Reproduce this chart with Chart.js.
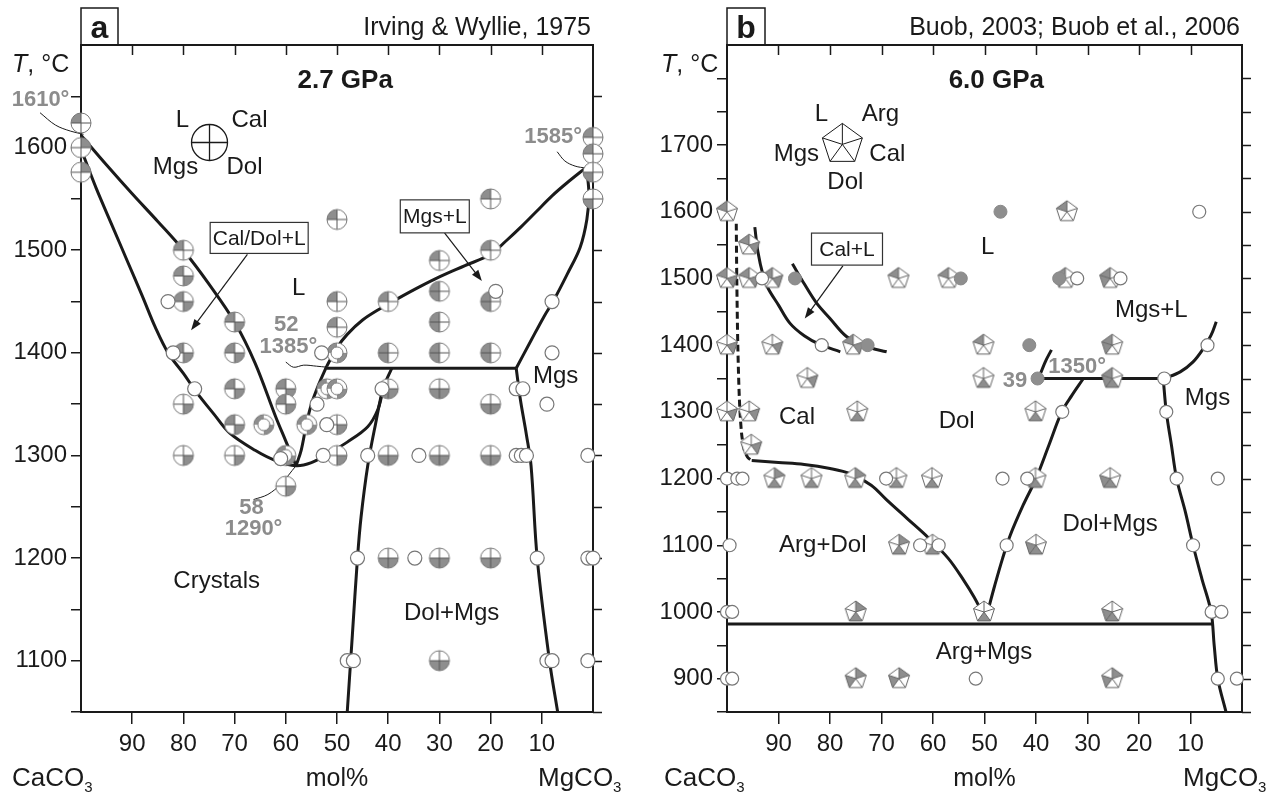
<!DOCTYPE html>
<html>
<head>
<meta charset="utf-8">
<script src="https://cdn.jsdelivr.net/npm/chart.js@4.4.1/dist/chart.umd.min.js"></script>
<style>
body { margin: 0; background: #fff; }
#wrap { position: relative; width: 1288px; height: 795px; overflow: hidden; }
canvas { position: absolute; top: 0; }
#ca { left: 0; }
#cb { left: 660px; }
</style>
</head>
<body>
<div id="wrap">
  <canvas id="ca" width="660" height="795"></canvas>
  <canvas id="cb" width="628" height="795"></canvas>
</div>
<script>
const INK = '#1a1a1a';
const GREY = '#8e8e8e';
const GTXT = '#8c8c8c';
Chart.defaults.font.family = '"Liberation Sans", Arial, Helvetica, sans-serif';
Chart.defaults.color = INK;

// tick labels
const tickX = [90, 80, 70, 60, 50, 40, 30, 20, 10];
const tickYA = [1100, 1200, 1300, 1400, 1500, 1600];
const tickYB = [900, 1000, 1100, 1200, 1300, 1400, 1500, 1600, 1700];

// ---- panel a : Irving & Wyllie 1975, 2.7 GPa  (x = mol% CaCO3, y = T)
// quadrant code: L Cal Mgs Dol
const aQuad = [
  [100, 1624, '1000'], [100, 1600, '0100'], [100, 1576, '0100'],
  [0, 1610, '1000'], [0, 1594, '1000'], [0, 1576, '0010'], [0, 1550, '0010'],
  [80, 1500, '1000'], [80, 1475, '1001'], [80, 1450, '1001'], [80, 1400, '1001'], [80, 1350, '0001'], [80, 1300, '0001'],
  [70, 1430, '1001'], [70, 1400, '1001'], [70, 1365, '1001'], [70, 1330, '1001'], [70, 1300, '0001'],
  [60, 1365, '1001'], [60, 1350, '1001'], [60, 1270, '0001'],
  [50, 1530, '1000'], [50, 1450, '1000'], [50, 1425, '1000'], [50, 1330, '0001'], [50, 1300, '0001'],
  [40, 1450, '1000'], [40, 1400, '1010'], [40, 1365, '0011'], [40, 1300, '0011'], [40, 1200, '0011'],
  [30, 1490, '1000'], [30, 1460, '1010'], [30, 1430, '1010'], [30, 1400, '1010'], [30, 1365, '0011'],
  [30, 1300, '0011'], [30, 1200, '0011'], [30, 1100, '0011'],
  [20, 1550, '1000'], [20, 1500, '1000'], [20, 1450, '1010'], [20, 1400, '1010'], [20, 1350, '0011'],
  [20, 1300, '0011'], [20, 1200, '0011']
];
const aRing = [[64.3, 1330], [60, 1300], [55.9, 1330], [52, 1365], [50, 1365], [50, 1400]];
const aOpen = [
  [83, 1450], [82, 1400], [77.8, 1365], [53.9, 1350], [53, 1400], [52, 1330], [52.7, 1300], [61, 1297],
  [44, 1300], [34, 1300], [41.2, 1365], [19, 1460], [15, 1300], [14, 1300], [13, 1300], [1, 1300],
  [8, 1450], [8, 1400], [9, 1350], [15, 1365], [13.7, 1365],
  [46, 1200], [34.8, 1200], [10.9, 1200], [1, 1200], [0, 1200],
  [48, 1100], [46.8, 1100], [9, 1100], [8, 1100], [1, 1100]
];
const aLiqCal = [[100, 1612], [95, 1583], [90, 1555], [85, 1528], [80, 1500], [75, 1467], [70, 1430], [66, 1390], [62, 1338], [60, 1314], [58, 1290]];
const aSolCal = [[99.5, 1592], [97, 1560], [94, 1525], [91, 1490], [88, 1455], [85.5, 1425], [83, 1400], [80, 1380], [77.5, 1362],
  [74, 1340], [71, 1322], [66, 1305], [62, 1295], [58, 1290], [55, 1293], [52, 1301], [48, 1313], [44, 1328], [42, 1345], [41, 1365]];
const aLiqDol = [[58, 1290], [57, 1305], [56, 1330], [55, 1350], [53.5, 1370], [52, 1387]];
const aLiqMgs = [[52, 1387], [50, 1405], [48, 1418], [45, 1432], [41.6, 1443], [37.7, 1454], [34, 1464], [30, 1474], [25, 1485],
  [20, 1496], [17, 1509], [14, 1523], [11, 1538], [8, 1553], [5, 1566], [1.5, 1580]];
const aSolMgs = [[15, 1385], [12, 1413], [9.5, 1436], [7.7, 1451], [5, 1477], [2.5, 1503], [1.2, 1530], [0.8, 1555], [1.2, 1578]];
const aIso = [[52, 1385], [15, 1385]];
const aSolvDol = [[39.3, 1385], [41, 1365], [42.5, 1330], [44, 1290], [45.3, 1240], [46, 1200], [47, 1125], [48, 1050]];
const aSolvMgs = [[15, 1385], [14.2, 1355], [13, 1320], [12.1, 1290], [10.9, 1200], [8.5, 1100], [6.9, 1050]];
const aLead1610 = [[108, 1634], [105, 1622], [102, 1616], [99.5, 1613]];
const aLead1585 = [[7, 1596], [5.5, 1587], [3.5, 1582], [1.3, 1580]];
const aLead1385 = [[60, 1391], [58.5, 1386], [56.5, 1388], [54, 1387], [52, 1386]];
const aLead1290 = [[66.3, 1257], [63.5, 1262], [61, 1272], [58, 1290]];

// ---- panel b : Buob 2003 / Buob et al. 2006, 6.0 GPa
// pentagon code: L Arg Cal Dol Mgs
const bPent = [
  [100, 1600, '10000'], [34, 1600, '10000'],
  [95.7, 1550, '10100'],
  [100, 1500, '10100'], [95.7, 1500, '10100'], [91.2, 1500, '10100'], [66.7, 1500, '10000'], [57, 1500, '10000'],
  [34.3, 1500, '10001'], [25.6, 1500, '10001'],
  [100, 1400, '00100'], [91.2, 1400, '00100'], [75.5, 1400, '10100'], [50.2, 1400, '10000'], [25.2, 1400, '10001'],
  [84.4, 1350, '00100'], [50.2, 1350, '00010'], [25.2, 1350, '10011'],
  [100, 1300, '00100'], [95.7, 1300, '00100'], [74.7, 1300, '00010'], [40.1, 1300, '00010'],
  [95.3, 1250, '00100'],
  [90.8, 1200, '01010'], [83.6, 1200, '00010'], [75.1, 1200, '01010'], [67.1, 1200, '00010'], [60.2, 1200, '00010'],
  [40.1, 1200, '00011'], [25.6, 1200, '00011'],
  [66.6, 1100, '01010'], [60.1, 1100, '00010'], [40, 1100, '00011'],
  [75, 1000, '01010'], [50.1, 1000, '00010'], [25.2, 1000, '00011'],
  [75, 900, '01001'], [66.6, 900, '01001'], [25.2, 900, '01001']
];
const bFull = [[46.9, 1600], [86.8, 1500], [54.6, 1500], [35.5, 1500], [72.7, 1400], [41.3, 1400], [39.7, 1350]];
const bOpen = [
  [8.3, 1600], [93.2, 1500], [32, 1500], [23.6, 1500], [81.6, 1400], [6.7, 1400], [15.1, 1350],
  [34.9, 1300], [14.7, 1300],
  [100, 1200], [98, 1200], [97, 1200], [69.1, 1200], [46.5, 1200], [41.7, 1200], [12.7, 1200], [4.7, 1200],
  [99.5, 1100], [62.5, 1100], [58.9, 1100], [45.7, 1100], [9.5, 1100],
  [100, 1000], [99, 1000], [5.9, 1000], [4, 1000],
  [100, 900], [99, 900], [51.7, 900], [4.7, 900], [1, 900]
];
const bDash = [[98.2, 1582], [98.1, 1500], [97.9, 1400], [97.6, 1320], [97.2, 1270], [96.7, 1245], [96, 1232], [95.2, 1227]];
const bArgDol = [[95.2, 1227], [90, 1224], [85, 1221], [80, 1215], [76, 1207], [72, 1190], [69, 1168], [65, 1140], [61, 1112],
  [57, 1080], [54, 1047], [52, 1022], [50.5, 1000]];
const bDolMgs = [[49.4, 1000], [48, 1040], [46.5, 1080], [45, 1115], [42.5, 1160], [40, 1200], [37.5, 1250], [35, 1300], [33, 1325], [30.8, 1350]];
const bIso1350 = [[39.5, 1350], [15.1, 1350]];
const bShort = [[39.5, 1350], [38.2, 1375], [37, 1393]];
const bLiqMgs = [[15.1, 1350], [12, 1360], [9.5, 1375], [7.5, 1395], [6, 1415], [5, 1435]];
const bSolvMgs = [[15.3, 1350], [14.7, 1300], [13.7, 1250], [12.7, 1200], [11, 1150], [9.5, 1100], [7.8, 1050], [6, 1000], [5.4, 950], [4.7, 900], [3.1, 850]];
const bIso982 = [[100, 982], [5.7, 982]];
const bCalL1 = [[94.6, 1577], [94, 1540], [93, 1505], [92, 1485], [90, 1460], [87.8, 1433], [85, 1414], [82, 1401], [78, 1390]];
const bCalL2 = [[87.3, 1522], [85, 1492], [82.6, 1463], [80, 1440], [76.8, 1413], [73, 1398], [69, 1390]];

// ---- symbol images
function quadIcon(code, r) {
  const c = document.createElement('canvas');
  const s = Math.ceil(2 * r + 4); c.width = c.height = s;
  const g = c.getContext('2d'), m = s / 2;
  g.fillStyle = '#fff'; g.beginPath(); g.arc(m, m, r, 0, 2 * Math.PI); g.fill();
  const ang = [[Math.PI, 1.5 * Math.PI], [1.5 * Math.PI, 2 * Math.PI], [0.5 * Math.PI, Math.PI], [0, 0.5 * Math.PI]];
  g.fillStyle = GREY;
  code.split('').forEach((f, i) => {
    if (f !== '1') return;
    g.beginPath(); g.moveTo(m, m); g.arc(m, m, r, ang[i][0], ang[i][1]); g.closePath(); g.fill();
  });
  g.strokeStyle = '#555'; g.lineWidth = 1;
  g.beginPath(); g.moveTo(m - r, m); g.lineTo(m + r, m); g.moveTo(m, m - r); g.lineTo(m, m + r); g.stroke();
  g.strokeStyle = '#777';
  g.beginPath(); g.arc(m, m, r, 0, 2 * Math.PI); g.stroke();
  return c;
}
function ringIcon(r) {
  const c = document.createElement('canvas');
  const s = Math.ceil(2 * r + 4); c.width = c.height = s;
  const g = c.getContext('2d'), m = s / 2;
  g.fillStyle = '#fff'; g.beginPath(); g.arc(m, m, r, 0, 2 * Math.PI); g.fill();
  g.strokeStyle = GREY; g.lineWidth = 4;
  g.beginPath(); g.arc(m, m, r - 2, Math.PI, 1.5 * Math.PI); g.stroke();
  g.beginPath(); g.arc(m, m, r - 2, 0, 0.5 * Math.PI); g.stroke();
  g.strokeStyle = '#777'; g.lineWidth = 1;
  g.beginPath(); g.arc(m, m, r, 0, 2 * Math.PI); g.stroke();
  g.beginPath(); g.arc(m, m, r - 4, 0, 2 * Math.PI); g.stroke();
  return c;
}
function pentPath(g, cx, cy, R) {
  const v = [];
  for (let k = 0; k < 5; k++) {
    const a = (-90 + 72 * k) * Math.PI / 180;
    v.push([cx + R * Math.cos(a), cy + R * Math.sin(a)]);
  }
  return v;
}
function pentIcon(code, R, lw) {
  const c = document.createElement('canvas');
  const s = Math.ceil(2 * R + 4); c.width = c.height = s;
  const g = c.getContext('2d'), m = s / 2;
  const v = pentPath(g, m, m, R);
  g.fillStyle = '#fff'; g.beginPath(); v.forEach((p, i) => i ? g.lineTo(p[0], p[1]) : g.moveTo(p[0], p[1])); g.closePath(); g.fill();
  const sect = [[4, 0], [0, 1], [1, 2], [2, 3], [3, 4]];
  g.fillStyle = GREY;
  code.split('').forEach((f, i) => {
    if (f !== '1') return;
    const [p, q] = sect[i];
    g.beginPath(); g.moveTo(m, m); g.lineTo(v[p][0], v[p][1]); g.lineTo(v[q][0], v[q][1]); g.closePath(); g.fill();
  });
  g.strokeStyle = '#666'; g.lineWidth = lw || 1;
  g.beginPath(); v.forEach(p => { g.moveTo(m, m); g.lineTo(p[0], p[1]); }); g.stroke();
  g.beginPath(); v.forEach((p, i) => i ? g.lineTo(p[0], p[1]) : g.moveTo(p[0], p[1])); g.closePath(); g.stroke();
  return c;
}
const icons = {};
function icon(kind, code) {
  const k = kind + code;
  if (!icons[k]) icons[k] = kind === 'q' ? quadIcon(code, 10) : kind === 'p' ? pentIcon(code, 11) : ringIcon(10);
  return icons[k];
}

// ---- helpers
const xy = a => a.map(p => ({ x: p[0], y: p[1], f: p[2] }));
const lineDs = (pts, extra) => Object.assign({
  data: xy(pts), showLine: true, pointRadius: 0, borderColor: INK, borderWidth: 3,
  tension: 0.35, order: 2, fill: false
}, extra || {});
const leader = pts => lineDs(pts, { borderWidth: 1, clip: false });

function rich(ctx, parts, x, y, align) {
  let w = 0;
  parts.forEach(p => { ctx.font = p.f; w += ctx.measureText(p.t).width; });
  let cx = align === 'right' ? x - w : align === 'center' ? x - w / 2 : x;
  ctx.textAlign = 'left'; ctx.textBaseline = 'alphabetic';
  parts.forEach(p => { ctx.font = p.f; ctx.fillText(p.t, cx, y + (p.dy || 0)); cx += ctx.measureText(p.t).width; });
}
const FF = '"Liberation Sans", Arial, sans-serif';

const deco = {
  id: 'deco',
  beforeDatasetsDraw(chart, args, o) {
    const { ctx, chartArea: a, scales: { x, y } } = chart;
    ctx.save();
    ctx.strokeStyle = INK; ctx.lineWidth = 1.5;
    ctx.beginPath();
    tickX.forEach(v => {
      const px = Math.round(x.getPixelForValue(v)) + 0.5;
      ctx.moveTo(px, a.top); ctx.lineTo(px, a.top + 10);
    });
    y.ticks.forEach(t => {
      if (t.value >= y.max) return;
      const py = Math.round(y.getPixelForValue(t.value)) + 0.5;
      ctx.moveTo(a.right, py); ctx.lineTo(a.right + 9, py);
    });
    ctx.stroke();
    ctx.lineWidth = 2;
    ctx.strokeRect(a.left, a.top, a.right - a.left, a.bottom - a.top);
    ctx.lineWidth = 1.5;
    ctx.strokeRect(a.left, 8, o.tabW, a.top - 8);
    ctx.restore();
  },
  afterDatasetsDraw(chart, args, o) {
    const { ctx, chartArea: a, scales: { x, y } } = chart;
    const X = v => x.getPixelForValue(v), Y = v => y.getPixelForValue(v);
    ctx.save();
    ctx.fillStyle = INK;
    // panel letter, source
    ctx.font = 'bold 32px ' + FF; ctx.textAlign = 'center'; ctx.textBaseline = 'alphabetic';
    ctx.fillText(o.letter, a.left + o.tabW / 2, 38);
    rich(ctx, [{ t: o.source, f: '25px ' + FF }], a.right - 2, 35, 'right');
    // axis titles
    rich(ctx, [{ t: 'T', f: 'italic 25px ' + FF }, { t: ', °C', f: '25px ' + FF }], o.tLeft, 72, 'left');
    rich(ctx, [{ t: 'CaCO', f: '26px ' + FF }, { t: '3', f: '15px ' + FF, dy: 6 }], o.caLeft, 786, 'left');
    rich(ctx, [{ t: 'mol%', f: '25px ' + FF }], (a.left + a.right) / 2, 786, 'center');
    rich(ctx, [{ t: 'MgCO', f: '26px ' + FF }, { t: '3', f: '15px ' + FF, dy: 6 }], o.mgLeft, 786, 'left');
    // legend glyph
    const lg = o.legend, gx = X(lg.x), gy = Y(lg.y);
    ctx.strokeStyle = INK; ctx.lineWidth = 1.3;
    if (lg.kind === 'q') {
      ctx.beginPath(); ctx.arc(gx, gy, lg.r, 0, 2 * Math.PI); ctx.stroke();
      ctx.beginPath(); ctx.moveTo(gx - lg.r, gy); ctx.lineTo(gx + lg.r, gy); ctx.moveTo(gx, gy - lg.r); ctx.lineTo(gx, gy + lg.r); ctx.stroke();
    } else {
      const v = pentPath(ctx, gx, gy, lg.r);
      ctx.lineWidth = 1;
      ctx.beginPath(); v.forEach((p, i) => i ? ctx.lineTo(p[0], p[1]) : ctx.moveTo(p[0], p[1])); ctx.closePath(); ctx.stroke();
      ctx.beginPath(); v.forEach(p => { ctx.moveTo(gx, gy); ctx.lineTo(p[0], p[1]); }); ctx.stroke();
    }
    ctx.font = '24px ' + FF; ctx.textAlign = 'center'; ctx.textBaseline = 'middle';
    lg.labels.forEach(l => ctx.fillText(l[0], gx + l[1], gy + l[2]));
    // field labels
    o.labels.forEach(l => {
      ctx.font = (l.f || '24px') + ' ' + FF; ctx.fillStyle = l.c || INK;
      ctx.textAlign = 'center'; ctx.textBaseline = 'middle';
      ctx.fillText(l.t, X(l.x), Y(l.y));
    });
    // arrows
    ctx.strokeStyle = INK; ctx.fillStyle = INK; ctx.lineWidth = 1.2;
    o.arrows.forEach(r => {
      const x1 = X(r[0]), y1 = Y(r[1]), x2 = X(r[2]), y2 = Y(r[3]);
      const ang = Math.atan2(y2 - y1, x2 - x1), h = 11, w = 4;
      ctx.beginPath(); ctx.moveTo(x1, y1); ctx.lineTo(x2 - h * 0.8 * Math.cos(ang), y2 - h * 0.8 * Math.sin(ang)); ctx.stroke();
      ctx.beginPath(); ctx.moveTo(x2, y2);
      ctx.lineTo(x2 - h * Math.cos(ang) + w * Math.sin(ang), y2 - h * Math.sin(ang) - w * Math.cos(ang));
      ctx.lineTo(x2 - h * Math.cos(ang) - w * Math.sin(ang), y2 - h * Math.sin(ang) + w * Math.cos(ang));
      ctx.closePath(); ctx.fill();
    });
    // boxed labels
    o.boxes.forEach(b => {
      const cx = X(b.x), cy = Y(b.y);
      ctx.fillStyle = '#fff'; ctx.fillRect(cx - b.w / 2, cy - b.h / 2, b.w, b.h);
      ctx.strokeStyle = '#333'; ctx.lineWidth = 1.2; ctx.strokeRect(cx - b.w / 2, cy - b.h / 2, b.w, b.h);
      ctx.fillStyle = INK; ctx.font = '21px ' + FF; ctx.textAlign = 'center'; ctx.textBaseline = 'middle';
      ctx.fillText(b.t, cx, cy + 1);
    });
    ctx.restore();
  }
};

function makeScales(ymin, ymax, yTicks, yWidth) {
  return {
    x: {
      type: 'linear', reverse: true, min: 0, max: 100,
      afterFit: s => { s.height = 83; },
      border: { display: false },
      grid: {
        drawOnChartArea: false, tickLength: 12, lineWidth: 1.5,
        color: c => (c.tick && tickX.includes(c.tick.value)) ? INK : 'rgba(0,0,0,0)'
      },
      ticks: { stepSize: 10, autoSkip: false, maxRotation: 0, padding: 6, font: { size: 24 }, color: INK,
        callback: v => tickX.includes(v) ? String(v) : '' }
    },
    y: {
      type: 'linear', min: ymin, max: ymax,
      afterFit: s => { s.width = yWidth; },
      border: { display: false },
      grid: {
        drawOnChartArea: false, tickLength: 10, lineWidth: 1.5,
        color: c => (c.tick && c.tick.value < ymax) ? INK : 'rgba(0,0,0,0)'
      },
      ticks: { stepSize: 50, autoSkip: false, padding: 4, font: { size: 24 }, color: INK,
        callback: v => yTicks.includes(v) ? String(v) : '' }
    }
  };
}

const baseOpts = {
  responsive: false, animation: false, devicePixelRatio: 1,
  plugins: { legend: { display: false }, tooltip: { enabled: false } },
  events: []
};

new Chart(document.getElementById('ca'), {
  type: 'scatter',
  data: {
    datasets: [
      { data: xy(aQuad), pointStyle: c => c.raw ? icon('q', c.raw.f) : 'circle', pointRadius: 10, clip: false, order: 1 },
      { data: xy(aRing), pointStyle: icon('r', ''), pointRadius: 10, clip: false, order: 1 },
      { data: xy(aOpen), pointStyle: 'circle', pointRadius: 7, backgroundColor: '#fff', borderColor: '#777', borderWidth: 1.2, clip: false, order: 0 },
      lineDs(aLiqCal), lineDs(aSolCal), lineDs(aLiqDol), lineDs(aLiqMgs), lineDs(aSolMgs),
      lineDs(aIso, { tension: 0 }), lineDs(aSolvDol), lineDs(aSolvMgs),
      leader(aLead1610), leader(aLead1585), leader(aLead1385), leader(aLead1290)
    ]
  },
  options: Object.assign({}, baseOpts, {
    layout: { padding: { left: 0, right: 67, top: 45, bottom: 0 } },
    scales: makeScales(1050, 1700, tickYA, 81),
    plugins: Object.assign({}, baseOpts.plugins, {
      deco: {
        letter: 'a', tabW: 37, source: 'Irving & Wyllie, 1975', tLeft: 12, caLeft: 12, mgLeft: 538,
        legend: { kind: 'q', x: 74.9, y: 1605, r: 18,
          labels: [['L', -27, -22], ['Cal', 40, -22], ['Mgs', -34, 25], ['Dol', 35, 25]] },
        labels: [
          { t: '2.7 GPa', x: 48.4, y: 1665, f: 'bold 26px' },
          { t: 'L', x: 57.5, y: 1463 },
          { t: 'Mgs', x: 7.3, y: 1377 },
          { t: 'Crystals', x: 73.5, y: 1177 },
          { t: 'Dol+Mgs', x: 27.6, y: 1146 },
          { t: '52', x: 59.9, y: 1427, f: 'bold 22px', c: GTXT },
          { t: '1385°', x: 59.5, y: 1406, f: 'bold 22px', c: GTXT },
          { t: '58', x: 66.7, y: 1249, f: 'bold 22px', c: GTXT },
          { t: '1290°', x: 66.3, y: 1228, f: 'bold 22px', c: GTXT },
          { t: '1610°', x: 107.9, y: 1646, f: 'bold 22px', c: GTXT },
          { t: '1585°', x: 7.8, y: 1610, f: 'bold 22px', c: GTXT }
        ],
        boxes: [
          { t: 'Cal/Dol+L', x: 65.2, y: 1512, w: 98, h: 31 },
          { t: 'Mgs+L', x: 30.9, y: 1533, w: 69, h: 33 }
        ],
        arrows: [[67.5, 1496, 78.5, 1422], [29, 1517, 21.7, 1470]]
      }
    })
  }),
  plugins: [deco]
});

new Chart(document.getElementById('cb'), {
  type: 'scatter',
  data: {
    datasets: [
      { data: xy(bPent), pointStyle: c => c.raw ? icon('p', c.raw.f) : 'circle', pointRadius: 10, clip: false, order: 1 },
      { data: xy(bFull), pointStyle: 'circle', pointRadius: 6.5, backgroundColor: GREY, borderColor: '#888', borderWidth: 1, clip: false, order: 0 },
      { data: xy(bOpen), pointStyle: 'circle', pointRadius: 6.5, backgroundColor: '#fff', borderColor: '#777', borderWidth: 1.2, clip: false, order: 0 },
      lineDs(bDash, { borderDash: [7, 4], tension: 0.3 }),
      lineDs(bArgDol), lineDs(bDolMgs), lineDs(bIso1350, { tension: 0 }), lineDs(bShort),
      lineDs(bLiqMgs), lineDs(bSolvMgs), lineDs(bIso982, { tension: 0 }),
      lineDs(bCalL1), lineDs(bCalL2)
    ]
  },
  options: Object.assign({}, baseOpts, {
    layout: { padding: { left: 0, right: 46, top: 45, bottom: 0 } },
    scales: makeScales(850, 1850, tickYB, 67),
    plugins: Object.assign({}, baseOpts.plugins, {
      deco: {
        letter: 'b', tabW: 38, source: 'Buob, 2003; Buob et al., 2006', tLeft: 1, caLeft: 4, mgLeft: 523,
        legend: { kind: 'p', x: 77.6, y: 1701, r: 21,
          labels: [['L', -21, -30], ['Arg', 38, -30], ['Mgs', -46, 10], ['Cal', 45, 10], ['Dol', 3, 38]] },
        labels: [
          { t: '6.0 GPa', x: 47.7, y: 1797, f: 'bold 26px' },
          { t: 'L', x: 49.4, y: 1547 },
          { t: 'Mgs+L', x: 17.6, y: 1452 },
          { t: '1350°', x: 32, y: 1367, f: 'bold 22px', c: GTXT },
          { t: '39', x: 44.1, y: 1347, f: 'bold 22px', c: GTXT },
          { t: 'Mgs', x: 6.7, y: 1320 },
          { t: 'Cal', x: 86.4, y: 1292 },
          { t: 'Dol', x: 55.4, y: 1285 },
          { t: 'Arg+Dol', x: 81.4, y: 1100 },
          { t: 'Dol+Mgs', x: 25.6, y: 1131 },
          { t: 'Arg+Mgs', x: 50.1, y: 940 }
        ],
        boxes: [{ t: 'Cal+L', x: 76.7, y: 1544, w: 71, h: 32 }],
        arrows: [[77.5, 1519, 84.9, 1440]]
      }
    })
  }),
  plugins: [deco]
});
</script>
</body>
</html>
